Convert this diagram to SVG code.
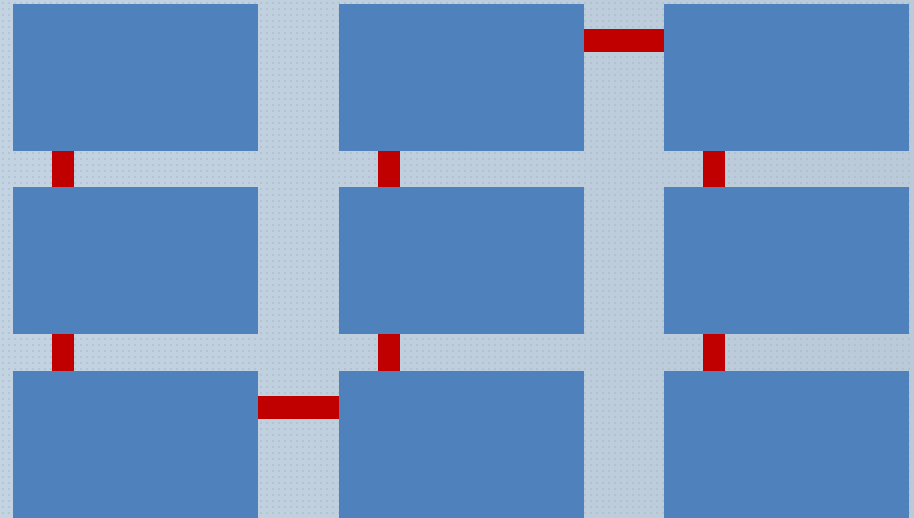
<svg xmlns="http://www.w3.org/2000/svg" width="914" height="518" viewBox="0 0 914 518">
<style>
.node{fill:#4F81BD}
.link{fill:#C00000}
</style>
<defs>
<pattern id="tex" width="6" height="6" patternUnits="userSpaceOnUse">
<circle cx="3" cy="3" r="1.1" fill="#A3B5C7" opacity="0.6"/>
</pattern>
<linearGradient id="bg" x1="0" y1="0" x2="1" y2="0">
<stop offset="0" stop-color="#C3D3E1"/>
<stop offset="1" stop-color="#BACAD8"/>
</linearGradient>
</defs>
<rect width="914" height="518" fill="url(#bg)"/>
<rect width="914" height="518" fill="url(#tex)"/>
<g id="n11"><rect class="node" x="13" y="4" width="245" height="147"/></g>
<g id="n12"><rect class="node" x="339" y="4" width="245" height="147"/></g>
<g id="n13"><rect class="node" x="664" y="4" width="245" height="147"/></g>
<g id="n21"><rect class="node" x="13" y="187" width="245" height="147"/></g>
<g id="n22"><rect class="node" x="339" y="187" width="245" height="147"/></g>
<g id="n23"><rect class="node" x="664" y="187" width="245" height="147"/></g>
<g id="n31"><rect class="node" x="13" y="371" width="245" height="147"/></g>
<g id="n32"><rect class="node" x="339" y="371" width="245" height="147"/></g>
<g id="n33"><rect class="node" x="664" y="371" width="245" height="147"/></g>
<g id="connectors">
<rect class="link" x="584" y="29" width="80" height="23"/>
<rect class="link" x="258" y="396" width="81" height="23"/>
<rect class="link" x="52" y="151" width="22" height="36"/>
<rect class="link" x="378" y="151" width="22" height="36"/>
<rect class="link" x="703" y="151" width="22" height="36"/>
<rect class="link" x="52" y="334" width="22" height="37"/>
<rect class="link" x="378" y="334" width="22" height="37"/>
<rect class="link" x="703" y="334" width="22" height="37"/>
</g>
</svg>
